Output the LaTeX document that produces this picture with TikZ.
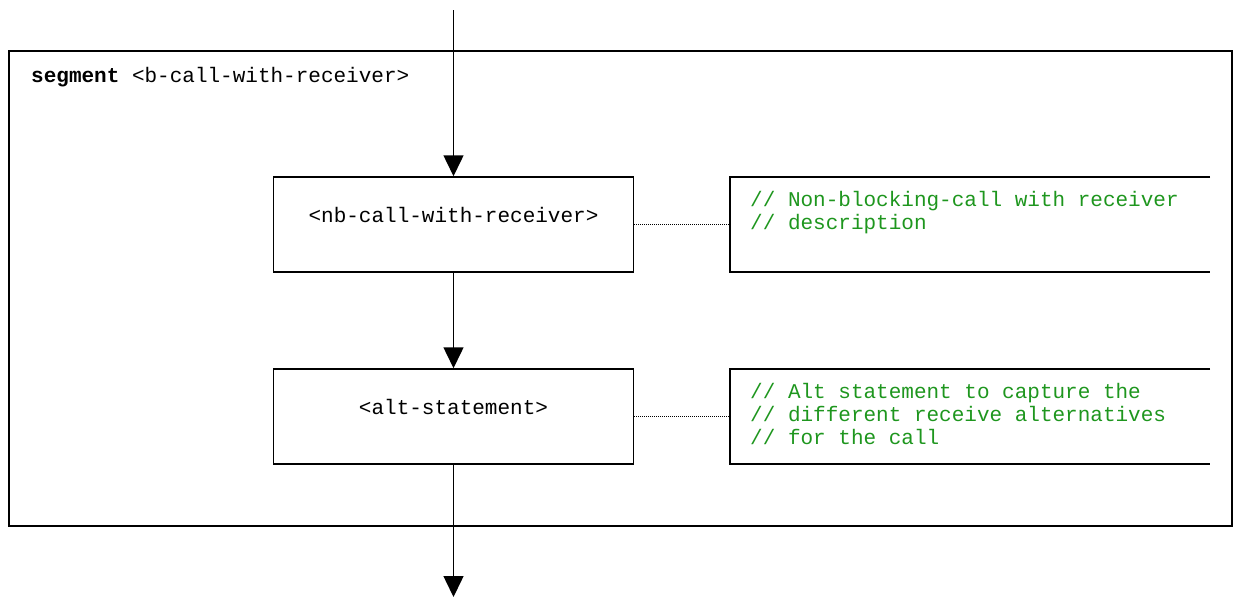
\documentclass[tikz,border=0pt]{standalone}
\usepackage{fontspec}
\setmonofont{Liberation Mono}
\usetikzlibrary{arrows.meta}
\definecolor{cgreen}{RGB}{30,150,30}
\begin{document}
\begin{tikzpicture}[x=1pt,y=-1pt,
  font=\ttfamily\fontsize{21}{23}\selectfont,
  box/.style={draw,line width=1.5pt,minimum width=360pt,minimum height=95pt,inner sep=0pt},
  cbox/.style={minimum width=480pt,minimum height=95pt,inner sep=0pt},
  ctext/.style={text=cgreen,align=left,inner sep=0pt,anchor=north west},
  flow/.style={line width=1.5pt,-{Triangle[length=21pt,width=20pt]}},
  link/.style={line width=1.2pt,dash pattern=on 1pt off 1pt}]
\useasboundingbox (0,0) rectangle (1233,597);
\draw[line width=1.5pt] (9,51) rectangle (1232,526);
\node[inner sep=0pt,anchor=base west] (title) at (31,82) {\textbf{segment} <b-call-with-receiver>};
\node[box] (b1) at (453.5,224.5) {};
\node[inner sep=0pt] (l1) at ([yshift=10pt]b1.center) {<nb-call-with-receiver>};
\node[box] (b2) at (453.5,416.5) {};
\node[inner sep=0pt] (l2) at ([yshift=10pt]b2.center) {<alt-statement>};
\node[cbox] (c1) at (970,224.5) {};
\node[cbox] (c2) at (970,416.5) {};
\draw[line width=1.5pt] (c1.north east) -- (c1.north west) -- (c1.south west) -- (c1.south east);
\draw[line width=1.5pt] (c2.north east) -- (c2.north west) -- (c2.south west) -- (c2.south east);
\node[ctext] (t1) at (750,191) {// Non-blocking-call with receiver\\// description};
\node[ctext] (t2) at (750,383) {// Alt statement to capture the\\// different receive alternatives\\// for the call};
\coordinate (top) at (453.5,10);
\coordinate (bot) at (453.5,597);
\draw[flow] (top) -- (b1.north);
\draw[flow] (b1.south) -- (b2.north);
\draw[flow] (b2.south) -- (bot);
\draw[link] (b1.east) -- (c1.west);
\draw[link] (b2.east) -- (c2.west);
\end{tikzpicture}
\end{document}
